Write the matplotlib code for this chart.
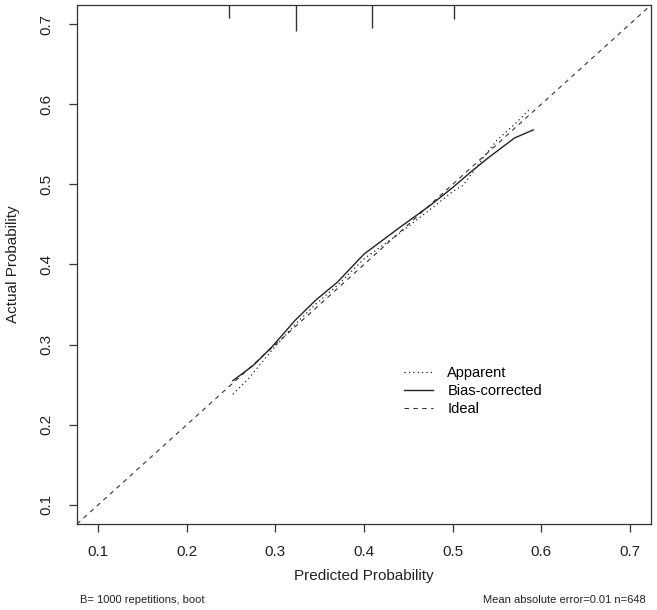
import matplotlib
matplotlib.use("Agg")
import matplotlib.pyplot as plt
import numpy as np

plt.rcParams['font.family'] = ['Liberation Sans', 'DejaVu Sans']

# Apparent calibration curve
app_x = [0.252, 0.270, 0.296, 0.322, 0.345, 0.370, 0.400, 0.440, 0.475, 0.500, 0.512, 0.540, 0.550, 0.570, 0.588]
app_y = [0.238, 0.258, 0.293, 0.325, 0.350, 0.374, 0.407, 0.439, 0.469, 0.491, 0.499, 0.541, 0.555, 0.575, 0.595]

# Bias-corrected calibration curve
bc_x = [0.252, 0.275, 0.296, 0.322, 0.345, 0.370, 0.400, 0.440, 0.475, 0.500, 0.520, 0.540, 0.570, 0.591]
bc_y = [0.255, 0.274, 0.297, 0.330, 0.355, 0.378, 0.413, 0.446, 0.474, 0.496, 0.515, 0.533, 0.558, 0.568]

# Distribution of predictions (spike histogram at top)
spike_x = [0.248, 0.3236, 0.409, 0.502]
spike_n = [13, 26, 23, 14]

ticks = [0.1, 0.2, 0.3, 0.4, 0.5, 0.6, 0.7]
lims = (0.076, 0.724)

fig = plt.figure(figsize=(6.57, 6.10), dpi=100)
ax = fig.add_axes([77/657, 1-524/610, (651-77)/657, (524-5)/610])

ink = '#222222'
ax.plot(lims, lims, color='#333333', lw=0.8, linestyle=(0, (4, 4)), label='Ideal', zorder=1)
ax.plot(app_x, app_y, color=ink, lw=0.9, linestyle=(0, (1, 2.5)), label='Apparent', zorder=2)
ax.plot(bc_x, bc_y, color=ink, lw=1.0, linestyle='-', label='Bias-corrected', zorder=3)

# spikes
scale = 0.00125
ax.vlines(spike_x, [lims[1] - n * scale for n in spike_n], lims[1], color='#333333', lw=1.0)

ax.set_xlim(lims)
ax.set_ylim(lims)
ax.set_xticks(ticks)
ax.set_yticks(ticks)
ax.set_xticklabels([f"{t:.1f}" for t in ticks], fontsize=11, color='#222222')
ax.set_yticklabels([f"{t:.1f}" for t in ticks], fontsize=11, color='#222222', rotation=90, va='center')
ax.tick_params(axis='both', length=6, width=0.9, color='#333333')
ax.tick_params(axis='x', pad=9)
ax.tick_params(axis='y', pad=11)
for s in ax.spines.values():
    s.set_color('#333333')
    s.set_linewidth(0.9)

ax.set_xlabel('Predicted Probability', fontsize=11, color='#222222', labelpad=7)
ax.set_ylabel('Actual Probability', fontsize=11, color='#222222', labelpad=14)

h, l = ax.get_legend_handles_labels()
order = [1, 2, 0]
ax.legend([h[i] for i in order], [l[i] for i in order], frameon=False, fontsize=10.5,
          loc='upper left', bbox_to_anchor=(0.56, 0.315), handlelength=2.0,
          labelspacing=0.25, handletextpad=0.95, borderaxespad=0)

fig.text(80/657, 1-600/610, 'B= 1000 repetitions, boot', fontsize=8, color='#222222', va='center', ha='left')
fig.text(646/657, 1-600/610, 'Mean absolute error=0.01 n=648', fontsize=8, color='#222222', va='center', ha='right')

fig.savefig('out.png', dpi=100)
